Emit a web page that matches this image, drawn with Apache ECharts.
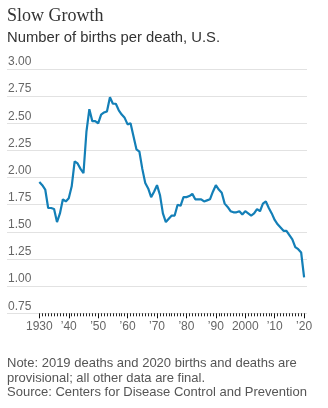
<!DOCTYPE html>
<html>
<head>
<meta charset="utf-8">
<script src="https://cdn.jsdelivr.net/npm/echarts@6/dist/echarts.min.js"></script>
<style>
html,body{margin:0;padding:0;background:#fff;}
#chart{width:328px;height:408px;}
</style>
</head>
<body>
<div id="chart"></div>
<script>
var years = [];
for (var y = 1930; y <= 2020; y++) years.push(y);
var birthsPerDeath = [
  1.96,1.93,1.89,1.72,1.72,1.71,1.59,1.67,1.80,1.78,
  1.81,1.92,2.15,2.13,2.08,2.04,2.42,2.63,2.52,2.52,
  2.50,2.58,2.60,2.61,2.74,2.68,2.68,2.62,2.58,2.55,
  2.49,2.50,2.38,2.26,2.24,2.08,1.95,1.90,1.82,1.87,
  1.93,1.84,1.67,1.59,1.62,1.65,1.65,1.75,1.74,1.82,
  1.82,1.83,1.85,1.80,1.80,1.80,1.78,1.79,1.80,1.87,
  1.93,1.89,1.86,1.76,1.73,1.69,1.68,1.68,1.69,1.66,
  1.69,1.67,1.65,1.67,1.71,1.69,1.76,1.78,1.72,1.67,
  1.61,1.57,1.54,1.51,1.51,1.47,1.43,1.36,1.34,1.31,
  1.08
];
var yTicks = [0.75, 1.00, 1.25, 1.50, 1.75, 2.00, 2.25, 2.50, 2.75, 3.00];
var titleText = 'Slow Growth';
var subtitleText = 'Number of births per death, U.S.';
var noteLines = [
  'Note: 2019 deaths and 2020 births and deaths are',
  'provisional; all other data are final.',
  'Source: Centers for Disease Control and Prevention'
];

var seriesData = years.map(function (yr, i) { return [yr, birthsPerDeath[i]]; });

var chart = echarts.init(document.getElementById('chart'), null, {renderer: 'canvas'});
var gridTop = 69, gridBottom = 94.7;
var option = {
  animation: false,
  backgroundColor: '#fff',
  grid: [
    {left: 7, right: 21, top: gridTop, bottom: gridBottom},
    {left: 39.35, right: 23.9, top: gridTop, bottom: gridBottom}
  ],
  xAxis: [
    {gridIndex: 0, type: 'value', min: 1919, max: 2021, show: true,
     axisLine: {show: false}, axisTick: {show: false}, axisLabel: {show: false}, splitLine: {show: false}},
    {gridIndex: 1, type: 'value', min: 1930, max: 2020, interval: 10, position: 'bottom',
     axisLine: {show: true, onZero: false, lineStyle: {color: '#e2e2e2', width: 1}},
     axisTick: {show: true, inside: false, length: 5, lineStyle: {color: '#111', width: 1}},
     minorTick: {show: true, splitNumber: 10, length: 3, lineStyle: {color: '#222', width: 1}},
     splitLine: {show: false},
     axisLabel: {
       margin: 7, color: '#666', fontSize: 12, fontFamily: 'Liberation Sans, Arial, sans-serif',
       formatter: function (v) {
         if (v === 1930 || v === 2000) return String(v);
         return '\u2019' + String(v).slice(2);
       }
     }}
  ],
  yAxis: [
    {gridIndex: 0, type: 'value', min: yTicks[0], max: yTicks[yTicks.length - 1], interval: 0.25,
     axisLine: {show: false}, axisTick: {show: false},
     splitLine: {show: true, showMinLine: true, showMaxLine: true, lineStyle: {color: '#e2e2e2', width: 1}},
     axisLabel: {
       inside: true, margin: 1, verticalAlign: 'bottom', lineHeight: 12, padding: [0, 0, 1, 0],
       color: '#666', fontSize: 12, fontFamily: 'Liberation Sans, Arial, sans-serif',
       formatter: function (v) { return v.toFixed(2); }
     }},
    {gridIndex: 1, type: 'value', min: yTicks[0], max: yTicks[yTicks.length - 1], interval: 0.25, show: false}
  ],
  series: [{
    type: 'line', xAxisIndex: 1, yAxisIndex: 1, data: seriesData,
    showSymbol: false, symbol: 'none',
    lineStyle: {color: '#137fb7', width: 2.2}, z: 5
  }],
  graphic: [
    {type: 'text', left: 7, top: 7, style: {text: titleText, fill: '#333', font: '18px "Liberation Serif", "Times New Roman", serif'}},
    {type: 'text', left: 7, top: 30, style: {text: subtitleText, fill: '#333', font: '14.8px "Liberation Sans", Arial, sans-serif'}},
    {type: 'text', left: 7, top: 357, style: {text: noteLines[0], fill: '#555', font: '13px "Liberation Sans", Arial, sans-serif'}},
    {type: 'text', left: 7, top: 371.5, style: {text: noteLines[1], fill: '#555', font: '13px "Liberation Sans", Arial, sans-serif'}},
    {type: 'text', left: 7, top: 386, style: {text: noteLines[2], fill: '#555', font: '13px "Liberation Sans", Arial, sans-serif'}}
  ]
};
chart.setOption(option);
</script>
</body>
</html>
